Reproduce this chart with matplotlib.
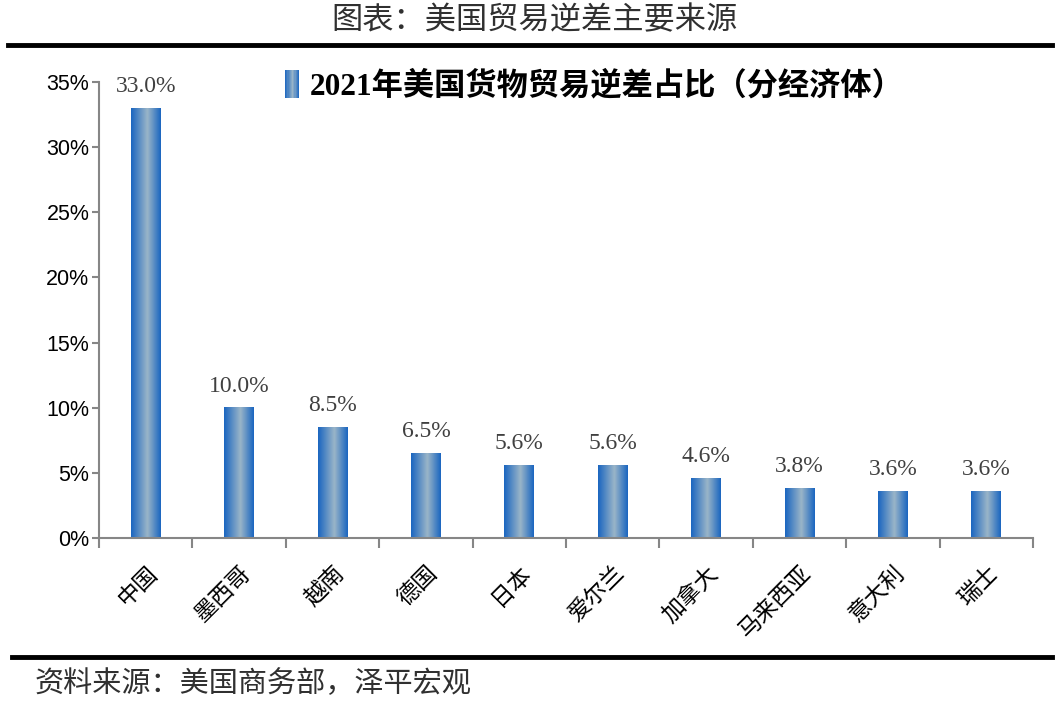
import numpy as np
import matplotlib
matplotlib.use('Agg')
import matplotlib.pyplot as plt
from matplotlib.colors import LinearSegmentedColormap
from matplotlib.legend_handler import HandlerBase
from matplotlib.patches import Rectangle
from matplotlib.lines import Line2D

plt.rcParams['font.family'] = ['Noto Sans CJK SC', 'DejaVu Sans']

# data
countries = ['中国', '墨西哥', '越南', '德国', '日本', '爱尔兰', '加拿大', '马来西亚', '意大利', '瑞士']
shares = [33.0, 10.0, 8.5, 6.5, 5.6, 5.6, 4.6, 3.8, 3.6, 3.6]
yticks = [0, 5, 10, 15, 20, 25, 30, 35]

title = '图表：美国贸易逆差主要来源'
series_name = '2021年美国货物贸易逆差占比（分经济体）'
source = '资料来源：美国商务部，泽平宏观'

grad = LinearSegmentedColormap.from_list('bargrad', [(0, '#1B66C0'), (0.55, '#9AB5C8'), (1, '#1B66C0')])


class GradHandler(HandlerBase):
    # legend key drawn as thin vertical strips to fake the gradient
    def create_artists(self, legend, orig_handle, xdescent, ydescent, width, height, fontsize, trans):
        n = 12
        out = []
        for k in range(n):
            r = Rectangle((-xdescent + width * k / n, -ydescent), width / n, height,
                          facecolor=grad((k + 0.5) / n), edgecolor='none', transform=trans)
            out.append(r)
        return out


fig = plt.figure(figsize=(10.58, 7.02), dpi=100)
ax = fig.add_axes([99 / 1058, 1 - 538 / 702, 934 / 1058, 456 / 702])

x = np.arange(len(countries))
bars = ax.bar(x, shares, width=0.32, color='none', edgecolor='none')
for b, v in zip(bars, shares):
    x0 = b.get_x()
    ax.imshow(np.linspace(0, 1, 64).reshape(1, -1), cmap=grad, aspect='auto',
              extent=[x0, x0 + b.get_width(), 0, v], zorder=2, interpolation='bilinear')
    ax.annotate(f'{v:.1f}%', (b.get_x() + b.get_width() / 2, v), xytext=(0, 8),
                textcoords='offset points', ha='center', va='bottom',
                family='Liberation Serif', fontsize=17, color='#404040')

ax.set_xlim(-0.5, len(countries) - 0.5)
ax.set_ylim(0, 35)

for s in ['top', 'right']:
    ax.spines[s].set_visible(False)
for s in ['left', 'bottom']:
    ax.spines[s].set_color('#868686')
    ax.spines[s].set_linewidth(1.5)

ax.set_yticks(yticks)
ax.set_yticklabels([f'{t}%' for t in yticks], family='Liberation Sans', fontsize=15.5)
ax.tick_params(axis='y', length=5, width=1.5, color='#868686', pad=2)

ax.set_xticks(np.arange(-0.5, len(countries), 1.0))
ax.set_xticklabels([])
ax.tick_params(axis='x', which='major', length=7, width=1.5, color='#868686')
ax.set_xticks(x, minor=True)
ax.set_xticklabels(countries, minor=True, rotation=45, ha='right', va='top',
                   rotation_mode='anchor', fontsize=16.5)
ax.tick_params(axis='x', which='minor', length=0, pad=17)

leg = fig.legend([Rectangle((0, 0), 1, 1)], [series_name], handler_map={Rectangle: GradHandler()},
                 loc='center left', bbox_to_anchor=(285 / 1058, 1 - 86 / 702), frameon=False,
                 handlelength=0.45, handleheight=1.0, handletextpad=0.35, borderpad=0, borderaxespad=0,
                 prop={'family': ['Liberation Serif', 'Noto Sans CJK SC'], 'weight': 'bold', 'size': 22.5})

fig.text(0.505, 1 - 20 / 702, title, ha='center', va='center', fontsize=22.5, color='#303030')
fig.add_artist(Line2D([8 / 1058, 1052 / 1058], [1 - 45 / 702] * 2, color='black', lw=3.5))
fig.add_artist(Line2D([12 / 1058, 1052 / 1058], [1 - 657 / 702] * 2, color='black', lw=3.5))
fig.text(35 / 1058, 1 - 684 / 702, source, ha='left', va='center', fontsize=21,
         style='italic', color='#303030')

fig.savefig('out.png', dpi=100)
